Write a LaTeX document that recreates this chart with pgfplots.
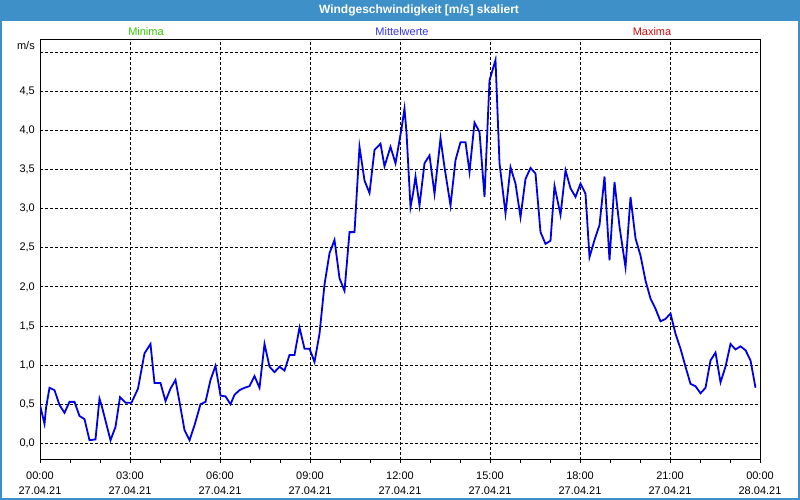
\documentclass[border=0pt]{standalone}
\usepackage{fontspec}
\setmainfont{Liberation Sans}
\usepackage{pgfplots}
\pgfplotsset{compat=1.18}
\definecolor{frameblue}{HTML}{3D91C8}
\definecolor{lineblue}{HTML}{0000E6}
\definecolor{mingreen}{HTML}{33CC00}
\definecolor{midblue}{HTML}{3333EE}
\definecolor{maxred}{HTML}{C81010}
\newcommand{\sz}{\fontsize{11bp}{13bp}\selectfont}
\begin{document}
\begin{tikzpicture}[x=1bp,y=1bp]
\useasboundingbox (0,0) rectangle (800,500);
\fill[white] (0,0) rectangle (800,500);
\fill[frameblue] (0,479) rectangle (800,500);
\draw[frameblue, line width=2bp] (1,1) rectangle (799,499);
\node[white, font=\bfseries\fontsize{12bp}{14bp}\selectfont] at (419,489.5) {Windgeschwindigkeit [m/s] skaliert};
\node[mingreen, font=\sz] at (146,468) {Minima};
\node[midblue, font=\sz] at (402,468) {Mittelwerte};
\node[maxred, font=\sz] at (652,468) {Maxima};
\node[font=\sz, anchor=east, inner sep=0pt] at (35,454) {m/s};
\begin{axis}[
  at={(40bp,40bp)}, anchor=south west,
  scale only axis, width=720bp, height=420bp,
  xmin=0, xmax=1440, ymin=-0.213, ymax=5.156,
  axis line style={black, line width=1bp},
  xtick={0,180,...,1440},
  minor xtick={60,120,...,1440},
  xticklabels={00:00\\27.04.21,03:00\\27.04.21,06:00\\27.04.21,09:00\\27.04.21,12:00\\27.04.21,15:00\\27.04.21,18:00\\27.04.21,21:00\\27.04.21,00:00\\28.04.21},
  ytick={0,0.5,...,5},
  yticklabels={{0,0},{0,5},{1,0},{1,5},{2,0},{2,5},{3,0},{3,5},{4,0},{4,5},{}},
  xtick pos=bottom, ytick pos=left,
  tick align=outside,
  major tick length=3bp, minor tick length=3bp,
  tick style={black, line width=0.8bp},
  ytick style={draw=none},
  xmajorgrids, ymajorgrids,
  major grid style={black, dash pattern=on 3bp off 2bp, line width=0.8bp},
  xticklabel style={align=center, font=\fontsize{11bp}{15bp}\selectfont, inner sep=0pt, yshift=-9bp},
  yticklabel style={font=\sz, inner sep=0pt, xshift=-2bp},
  /pgf/number format/assume math mode=true,
]
\addplot[lineblue, line width=1.8bp] coordinates {
(0,0.49) (9,0.25) (12,0.45) (19,0.71) (29,0.68) (39,0.49) (49,0.39) (59,0.53)
(69,0.53) (79,0.35) (89,0.31) (99,0.04) (111,0.05) (119,0.57) (123,0.49)
(141,0.04) (151,0.21) (160,0.59) (171,0.52) (183,0.52) (196,0.70) (209,1.15)
(221,1.27) (229,0.77) (241,0.77) (251,0.54) (261,0.70) (271,0.81) (279,0.53)
(289,0.17) (299,0.04) (309,0.23) (321,0.50) (331,0.53) (341,0.81) (351,0.99)
(361,0.61) (371,0.60) (381,0.50) (389,0.62) (399,0.68) (409,0.71) (419,0.73)
(429,0.86) (439,0.71) (449,1.27) (459,0.98) (469,0.91) (479,0.98) (489,0.93)
(499,1.13) (509,1.13) (519,1.48) (529,1.21) (539,1.21) (549,1.04) (559,1.40)
(569,2.03) (579,2.43) (589,2.60) (599,2.11) (609,1.95) (619,2.70) (629,2.70)
(639,3.79) (649,3.36) (659,3.20) (669,3.75) (681,3.83) (689,3.54) (701,3.79)
(711,3.58) (723,4.02) (729,4.28) (733,3.97) (741,3.02) (746,3.19) (751,3.41)
(759,3.04) (769,3.58) (779,3.68) (789,3.19) (801,3.90) (809,3.53) (821,3.04)
(831,3.62) (841,3.85) (851,3.85) (859,3.47) (869,4.10) (879,3.98) (889,3.15)
(899,4.64) (911,4.90) (919,3.58) (931,2.94) (941,3.53) (951,3.32) (961,2.89)
(971,3.38) (981,3.52) (991,3.45) (1001,2.70) (1011,2.55) (1021,2.59) (1029,3.29)
(1041,2.92) (1051,3.49) (1061,3.26) (1071,3.15) (1081,3.32) (1091,3.19)
(1099,2.38) (1109,2.60) (1119,2.79) (1129,3.41) (1139,2.34) (1149,3.34)
(1159,2.77) (1171,2.25) (1181,3.15) (1191,2.62) (1201,2.40) (1211,2.08)
(1221,1.85) (1231,1.72) (1241,1.56) (1251,1.59) (1261,1.66) (1271,1.40)
(1281,1.21) (1291,0.98) (1301,0.76) (1311,0.73) (1321,0.64) (1331,0.71)
(1341,1.06) (1351,1.16) (1361,0.78) (1371,0.98) (1381,1.27) (1391,1.20)
(1401,1.24) (1411,1.19) (1421,1.06) (1431,0.71)
};
\end{axis}
\end{tikzpicture}
\end{document}
